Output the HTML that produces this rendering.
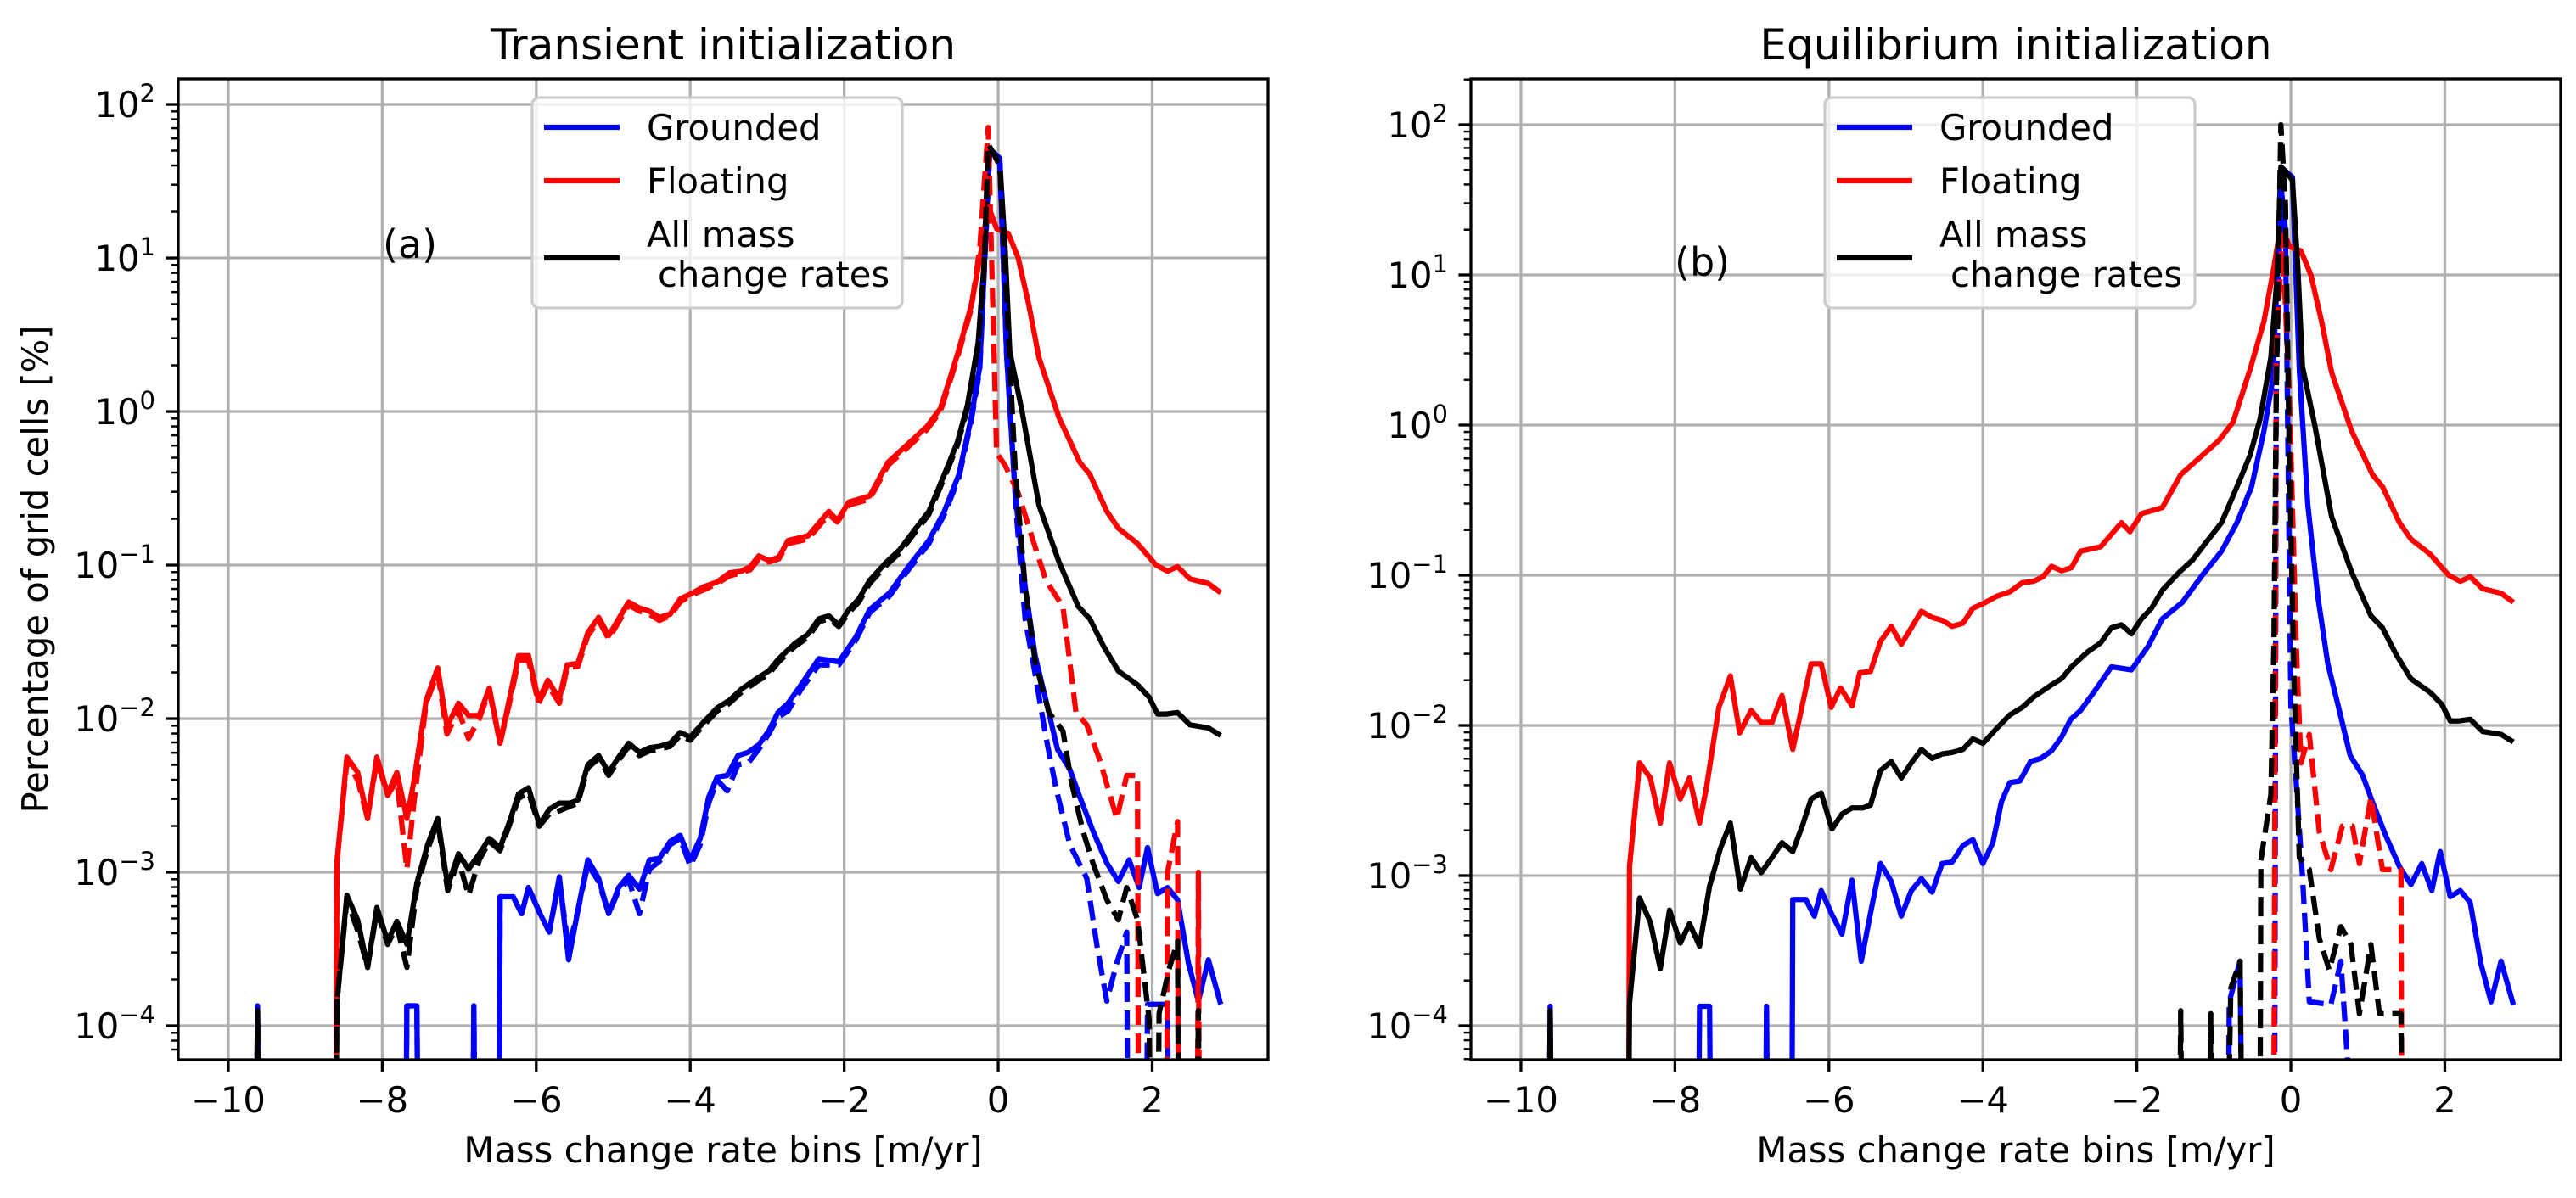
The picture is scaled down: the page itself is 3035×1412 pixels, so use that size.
<!DOCTYPE html>
<html><head><meta charset="utf-8">
<style>
html,body{margin:0;padding:0;background:#fff;}
svg{display:block;font-family:"DejaVu Sans","Liberation Sans",sans-serif;}
</style></head>
<body>
<svg id="fig" width="3035" height="1412" viewBox="0 0 3035 1412" xmlns="http://www.w3.org/2000/svg"></svg>
<script>
// ---------- DATA (x = bin centre in m/yr, y = log10 of percentage; null = zero) ----------
const floatSolidX = [-8.60,-8.59,-8.46,-8.32,-8.19,-8.07,-7.93,-7.81,-7.68,-7.59,-7.43,-7.28,-7.16,-7.01,-6.88,-6.74,-6.61,-6.47,-6.34,-6.23,-6.10,-5.97,-5.85,-5.70,-5.60,-5.46,-5.33,-5.19,-5.06,-4.93,-4.80,-4.66,-4.53,-4.40,-4.26,-4.13,-4.00,-3.82,-3.65,-3.49,-3.34,-3.22,-3.11,-2.98,-2.85,-2.73,-2.47,-2.20,-2.09,-1.94,-1.67,-1.43,-1.19,-0.93,-0.75,-0.53,-0.35,-0.22,-0.13,-0.02,0.13,0.26,0.40,0.53,0.79,1.06,1.19,1.41,1.56,1.81,2.05,2.20,2.33,2.49,2.73,2.89];
const floatSolidY = [null,-2.94,-2.25,-2.35,-2.65,-2.25,-2.49,-2.35,-2.65,-2.41,-1.88,-1.67,-2.05,-1.90,-1.98,-1.98,-1.80,-2.16,-1.85,-1.59,-1.59,-1.88,-1.75,-1.87,-1.65,-1.64,-1.44,-1.34,-1.46,-1.35,-1.24,-1.28,-1.30,-1.34,-1.32,-1.22,-1.19,-1.14,-1.11,-1.05,-1.04,-1.01,-0.94,-0.97,-0.95,-0.84,-0.81,-0.65,-0.71,-0.59,-0.55,-0.33,-0.22,-0.10,0.02,0.37,0.69,1.05,1.34,1.19,1.16,1.0,0.69,0.35,-0.04,-0.33,-0.41,-0.65,-0.76,-0.86,-1.0,-1.04,-1.01,-1.09,-1.12,-1.18];

const blackSolidX = [-9.63,-9.62,-9.61,-8.60,-8.59,-8.46,-8.32,-8.19,-8.07,-7.93,-7.81,-7.68,-7.55,-7.41,-7.28,-7.15,-7.01,-6.88,-6.74,-6.61,-6.47,-6.34,-6.23,-6.10,-5.96,-5.83,-5.70,-5.56,-5.46,-5.33,-5.19,-5.06,-4.93,-4.80,-4.66,-4.53,-4.40,-4.26,-4.13,-4.00,-3.82,-3.65,-3.49,-3.34,-3.11,-2.98,-2.85,-2.64,-2.47,-2.33,-2.20,-2.07,-1.94,-1.81,-1.67,-1.45,-1.28,-1.10,-0.90,-0.70,-0.53,-0.40,-0.26,-0.18,-0.13,-0.07,0.02,0.09,0.15,0.31,0.53,0.79,1.04,1.19,1.37,1.56,1.81,1.96,2.07,2.18,2.33,2.49,2.73,2.89];
const blackSolidY = [null,-3.90,null,null,-3.85,-3.15,-3.31,-3.62,-3.23,-3.45,-3.32,-3.47,-3.07,-2.82,-2.65,-3.09,-2.88,-2.98,-2.88,-2.78,-2.84,-2.66,-2.49,-2.45,-2.69,-2.59,-2.55,-2.55,-2.53,-2.30,-2.24,-2.35,-2.25,-2.16,-2.22,-2.19,-2.18,-2.16,-2.09,-2.12,-2.02,-1.93,-1.88,-1.81,-1.73,-1.69,-1.61,-1.51,-1.45,-1.35,-1.33,-1.39,-1.29,-1.22,-1.10,-0.98,-0.90,-0.78,-0.65,-0.41,-0.20,0.04,0.45,0.98,1.72,1.69,1.63,1.06,0.39,0.0,-0.61,-0.98,-1.27,-1.35,-1.53,-1.69,-1.78,-1.86,-1.97,-1.97,-1.96,-2.04,-2.06,-2.11];

const blueSolidX = [-9.63,-9.62,-9.61,-7.69,-7.68,-7.55,-7.54,-6.82,-6.81,-6.80,-6.48,-6.47,-6.30,-6.19,-6.10,-5.96,-5.83,-5.70,-5.58,-5.46,-5.33,-5.19,-5.06,-4.93,-4.80,-4.66,-4.53,-4.40,-4.26,-4.13,-4.00,-3.87,-3.76,-3.65,-3.52,-3.38,-3.25,-3.11,-2.98,-2.86,-2.73,-2.56,-2.33,-2.07,-1.85,-1.67,-1.41,-1.15,-0.90,-0.70,-0.51,-0.35,-0.24,-0.18,-0.11,0.02,0.11,0.22,0.35,0.48,0.62,0.77,0.93,1.06,1.23,1.41,1.56,1.70,1.83,1.94,2.07,2.20,2.33,2.47,2.60,2.73,2.89];
const blueSolidY = [null,-3.87,null,null,-3.87,-3.87,null,null,-3.87,null,null,-3.16,-3.16,-3.27,-3.10,-3.26,-3.39,-3.03,-3.57,-3.25,-2.92,-3.04,-3.27,-3.10,-3.02,-3.11,-2.92,-2.91,-2.80,-2.76,-2.92,-2.78,-2.51,-2.38,-2.37,-2.24,-2.22,-2.17,-2.08,-1.96,-1.90,-1.78,-1.61,-1.63,-1.47,-1.29,-1.18,-1.0,-0.84,-0.65,-0.41,-0.04,0.29,0.94,1.71,1.65,0.37,-0.53,-1.14,-1.59,-1.88,-2.2,-2.33,-2.51,-2.73,-2.94,-3.06,-2.92,-3.10,-2.84,-3.14,-3.10,-3.18,-3.59,-3.84,-3.57,-3.86];

// (a) transient initialization, dashed series
const floatDashAX = [-8.60,-8.59,-8.46,-8.32,-8.19,-8.07,-7.93,-7.81,-7.68,-7.59,-7.43,-7.28,-7.16,-7.01,-6.88,-6.74,-6.61,-6.47,-6.34,-6.23,-6.10,-5.97,-5.85,-5.70,-5.60,-5.46,-5.33,-5.19,-5.06,-4.93,-4.80,-4.66,-4.53,-4.40,-4.26,-4.13,-4.00,-3.82,-3.65,-3.49,-3.34,-3.22,-3.11,-2.98,-2.85,-2.73,-2.47,-2.20,-2.09,-1.94,-1.67,-1.43,-1.19,-0.93,-0.75,-0.53,-0.35,-0.24,-0.13,-0.02,0.09,0.26,0.44,0.62,0.84,1.01,1.15,1.32,1.54,1.67,1.81,1.82,2.19,2.20,2.33,2.34,2.59,2.60,2.61];
const floatDashAY = [null,-2.94,-2.28,-2.40,-2.65,-2.27,-2.50,-2.40,-2.98,-2.55,-1.90,-1.70,-2.10,-1.95,-2.13,-2.00,-1.82,-2.16,-1.88,-1.62,-1.62,-1.90,-1.78,-1.90,-1.67,-1.66,-1.46,-1.36,-1.48,-1.37,-1.26,-1.30,-1.32,-1.36,-1.33,-1.24,-1.20,-1.16,-1.12,-1.07,-1.05,-1.03,-0.96,-0.98,-0.96,-0.86,-0.83,-0.67,-0.72,-0.61,-0.57,-0.35,-0.24,-0.12,0.0,0.35,0.67,1.06,1.85,-0.27,-0.35,-0.53,-0.82,-1.10,-1.27,-1.96,-2.04,-2.27,-2.65,-2.37,-2.37,null,null,-3.0,-2.67,null,null,-3.0,null];

const blackDashAX = [-9.63,-9.62,-9.61,-8.60,-8.59,-8.46,-8.32,-8.19,-8.07,-7.93,-7.81,-7.68,-7.55,-7.41,-7.28,-7.15,-7.01,-6.88,-6.74,-6.61,-6.47,-6.34,-6.23,-6.10,-5.96,-5.83,-5.70,-5.56,-5.46,-5.33,-5.19,-5.06,-4.93,-4.80,-4.66,-4.53,-4.40,-4.26,-4.13,-4.00,-3.82,-3.65,-3.49,-3.34,-3.11,-2.98,-2.85,-2.64,-2.47,-2.33,-2.20,-2.07,-1.94,-1.81,-1.67,-1.45,-1.28,-1.10,-0.90,-0.70,-0.53,-0.40,-0.26,-0.18,-0.13,-0.07,0.02,0.13,0.22,0.35,0.48,0.66,0.84,0.95,1.10,1.23,1.41,1.56,1.67,1.81,1.96,1.97,2.08,2.09,2.22,2.33,2.34,2.59,2.60,2.61];
const blackDashAY = [null,-3.90,null,null,-3.85,-3.18,-3.38,-3.62,-3.25,-3.47,-3.35,-3.62,-3.10,-2.85,-2.67,-3.12,-2.92,-3.15,-2.92,-2.80,-2.86,-2.68,-2.52,-2.48,-2.70,-2.62,-2.60,-2.57,-2.55,-2.32,-2.26,-2.37,-2.27,-2.18,-2.24,-2.21,-2.20,-2.18,-2.11,-2.14,-2.04,-1.95,-1.90,-1.83,-1.75,-1.71,-1.63,-1.53,-1.47,-1.37,-1.35,-1.40,-1.31,-1.24,-1.12,-1.0,-0.92,-0.80,-0.67,-0.43,-0.22,0.02,0.43,0.96,1.74,1.69,1.60,0.53,-0.37,-1.14,-1.63,-1.96,-2.08,-2.41,-2.73,-2.94,-3.18,-3.31,-3.10,-3.31,-3.96,null,null,-3.92,-3.63,-3.45,null,null,-3.90,null];

const blueDashAX = [-9.63,-9.62,-9.61,-7.69,-7.68,-7.55,-7.54,-6.82,-6.81,-6.80,-6.48,-6.47,-6.30,-6.19,-6.10,-5.96,-5.83,-5.70,-5.58,-5.46,-5.33,-5.19,-5.06,-4.93,-4.80,-4.66,-4.53,-4.40,-4.26,-4.13,-4.00,-3.87,-3.76,-3.65,-3.52,-3.38,-3.25,-3.11,-2.98,-2.86,-2.73,-2.56,-2.33,-2.07,-1.85,-1.67,-1.41,-1.15,-0.90,-0.70,-0.51,-0.35,-0.24,-0.18,-0.11,0.02,0.11,0.24,0.35,0.48,0.62,0.75,0.93,1.15,1.28,1.41,1.54,1.67,1.68,1.93,1.94,2.20,2.21];
const blueDashAY = [null,-3.87,null,null,-3.87,-3.87,null,null,-3.87,null,null,-3.16,-3.16,-3.27,-3.10,-3.26,-3.39,-3.05,-3.50,-3.25,-2.95,-3.06,-3.27,-3.12,-3.05,-3.27,-2.98,-2.93,-2.82,-2.78,-2.96,-2.82,-2.55,-2.40,-2.47,-2.30,-2.29,-2.20,-2.10,-1.99,-1.95,-1.81,-1.65,-1.65,-1.49,-1.31,-1.20,-1.02,-0.86,-0.67,-0.43,-0.06,0.27,0.92,1.69,1.63,0.37,-0.69,-1.35,-1.71,-2.12,-2.45,-2.82,-3.04,-3.47,-3.84,-3.59,-3.39,null,null,-3.86,-3.86,null];

// (b) equilibrium initialization, dashed series
const floatDashBX = [-0.22,-0.19,-0.11,-0.02,0.07,0.13,0.24,0.37,0.52,0.67,0.80,0.89,1.04,1.19,1.43,1.44];
const floatDashBY = [null,0.5,1.26,0.21,-1.46,-2.25,-2.06,-2.71,-2.96,-2.67,-2.67,-2.92,-2.48,-2.96,-2.96,null];

const blackDashBX = [-1.44,-1.43,-1.42,-1.05,-1.04,-1.03,-0.81,-0.78,-0.66,-0.64,-0.40,-0.39,-0.26,-0.22,-0.19,-0.13,-0.07,-0.02,0.04,0.11,0.24,0.37,0.50,0.65,0.78,0.89,1.04,1.15,1.43,1.44];
const blackDashBY = [null,-3.90,null,null,-3.92,null,null,-3.75,-3.57,null,null,-2.90,-2.46,-1.46,0.21,2.0,1.47,-0.2,-1.67,-2.88,-2.96,-3.42,-3.63,-3.34,-3.46,-3.92,-3.46,-3.92,-3.92,null];

const blueDashBX = [-0.81,-0.80,-0.66,-0.64,-0.21,-0.19,-0.13,-0.07,0.0,0.07,0.15,0.24,0.52,0.65,0.78];
const blueDashBY = [null,-3.84,-3.57,null,null,0.2,1.6,1.3,-1.87,-2.38,-3.0,-3.84,-3.86,-3.57,null];

const xTicks = [-10,-8,-6,-4,-2,0,2];
const yTicks = [-4,-3,-2,-1,0,1,2];

// ---------- LAYOUT ----------
const svg = document.getElementById('fig');
const NS = 'http://www.w3.org/2000/svg';
function mk(tag, attrs, parent){ const e=document.createElementNS(NS,tag); for(const k in attrs) e.setAttribute(k,attrs[k]); (parent||svg).appendChild(e); return e; }

const panels = [
  {id:'a', left:210, right:1494, top:93, bottom:1249, xmin:-10.65, xmax:3.505, ymin:-4.221, ymax:2.166,
   title:'Transient initialization', tag:'(a)', tagX:451, tagY:287, ylabel:true,
   dashed:[[blueDashAX,blueDashAY,'#0000ff','grounded-dashed-a'],[floatDashAX,floatDashAY,'#ff0000','floating-dashed-a'],[blackDashAX,blackDashAY,'#000000','all-dashed-a']]},
  {id:'b', left:1733, right:3017, top:93, bottom:1249, xmin:-10.65, xmax:3.505, ymin:-4.226, ymax:2.305,
   title:'Equilibrium initialization', tag:'(b)', tagX:1973, tagY:308, ylabel:false,
   dashed:[[blueDashBX,blueDashBY,'#0000ff','grounded-dashed-b'],[floatDashBX,floatDashBY,'#ff0000','floating-dashed-b'],[blackDashBX,blackDashBY,'#000000','all-dashed-b']]}
];

panels.forEach(p=>{
  const sx = v => p.left + (v - p.xmin)/(p.xmax - p.xmin)*(p.right - p.left);
  const sy = v => v===null ? p.bottom + 60 : p.bottom - (v - p.ymin)/(p.ymax - p.ymin)*(p.bottom - p.top);
  const g = mk('g',{});
  
  

  const defs = mk('defs',{},g);
  const cp = mk('clipPath',{id:'clip-'+p.id},defs);
  mk('rect',{x:p.left,y:p.top,width:p.right-p.left,height:p.bottom-p.top},cp);

  // grid
  const grid = mk('g',{stroke:'#b0b0b0','stroke-width':3.3},g);
  
  
  xTicks.forEach(t=>{ mk('line',{x1:sx(t),x2:sx(t),y1:p.top,y2:p.bottom},grid); });
  yTicks.forEach(t=>{ if(t>=p.ymin && t<=p.ymax) mk('line',{x1:p.left,x2:p.right,y1:sy(t),y2:sy(t)},grid); });

  // series
  const lines = mk('g',{'clip-path':'url(#clip-'+p.id+')',fill:'none','stroke-width':6.25,'stroke-linejoin':'round'},g);
  function draw(xs, ys, color, name, dashed){
    let d='';
    for(let i=0;i<xs.length;i++){ d += (i? 'L':'M') + sx(xs[i]).toFixed(1)+','+sy(ys[i]).toFixed(1); }
    const el = mk('path',{d:d,stroke:color},lines);
    if(dashed) el.setAttribute('stroke-dasharray','23 10');
    
    
  }
  draw(blueSolidX, blueSolidY, '#0000ff', 'grounded-line-'+p.id, false);
  draw(floatSolidX, floatSolidY, '#ff0000', 'floating-line-'+p.id, false);
  draw(blackSolidX, blackSolidY, '#000000', 'all-line-'+p.id, false);
  p.dashed.forEach(s=>draw(s[0],s[1],s[2],s[3],true));

  // spines
  const sp = mk('rect',{x:p.left,y:p.top,width:p.right-p.left,height:p.bottom-p.top,fill:'none',stroke:'#000','stroke-width':3.3},g);
  
  

  // x ticks
  const xt = mk('g',{},g);
  
  
  xTicks.forEach(t=>{
    mk('line',{x1:sx(t),x2:sx(t),y1:p.bottom,y2:p.bottom+14.6,stroke:'#000','stroke-width':3.3},xt);
    const tx = mk('text',{x:sx(t),y:p.bottom+62,'text-anchor':'middle','font-size':41.7},xt);
    tx.textContent = t<0 ? '\u2212'+Math.abs(t) : String(t);
    
    
  });
  const xl = mk('text',{x:(p.left+p.right)/2,y:1370,'text-anchor':'middle','font-size':41.7},g);
  xl.textContent='Mass change rate bins [m/yr]';
  
  

  // y ticks (log)
  const yt = mk('g',{},g);
  
  
  for(let dcd=-5; dcd<=2; dcd++){
    for(let m=2;m<=9;m++){
      const v = dcd + Math.log10(m);
      if(v>p.ymin && v<p.ymax) mk('line',{x1:p.left-8.3,x2:p.left,y1:sy(v),y2:sy(v),stroke:'#000','stroke-width':2.5},yt);
    }
  }
  yTicks.forEach(t=>{
    if(t<p.ymin||t>p.ymax) return;
    const y=sy(t);
    mk('line',{x1:p.left-14.6,x2:p.left,y1:y,y2:y,stroke:'#000','stroke-width':3.3},yt);
    const tx = mk('text',{x:p.left-27,y:y+15,'text-anchor':'end','font-size':41.7},yt);
    
    
    const a = mk('tspan',{},tx); a.textContent='10';
    const b = mk('tspan',{dy:-18,'font-size':29},tx); b.textContent = t<0 ? '\u2212'+Math.abs(t) : String(t);
  });

  // title
  const ti = mk('text',{x:(p.left+p.right)/2,y:70,'text-anchor':'middle','font-size':50},g);
  ti.textContent=p.title;
  
  

  // panel tag
  const tg = mk('text',{x:p.tagX,y:p.tagY+17,'font-size':46},g);
  tg.textContent=p.tag;
  
  

  // legend
  const off = p.left - 210;
  const lg = mk('g',{},g);
  
  
  mk('rect',{x:627+off,y:115,width:436,height:248,rx:8,fill:'rgba(255,255,255,0.8)',stroke:'#cccccc','stroke-width':3.3},lg);
  const entries=[['#0000ff',150,['Grounded'],[165]],['#ff0000',213,['Floating'],[228]],['#000000',304,['All mass',' change rates'],[291,338]]];
  entries.forEach((e,i)=>{
    const eg = mk('g',{},lg);
    
    
    mk('line',{x1:641+off,x2:730+off,y1:e[1],y2:e[1],stroke:e[0],'stroke-width':6.25},eg);
    e[2].forEach((s,j)=>{
      const t = mk('text',{x:(j?775:762)+off,y:e[3][j],'font-size':41.7},eg);
      t.textContent=s.trim();
    });
  });

  if(p.ylabel){
    const yl = mk('text',{x:0,y:0,'text-anchor':'middle','font-size':41.7,transform:'translate(56,671) rotate(-90)'},g);
    yl.textContent='Percentage of grid cells [%]';
    
    
  }
});
</script>
</body></html>
